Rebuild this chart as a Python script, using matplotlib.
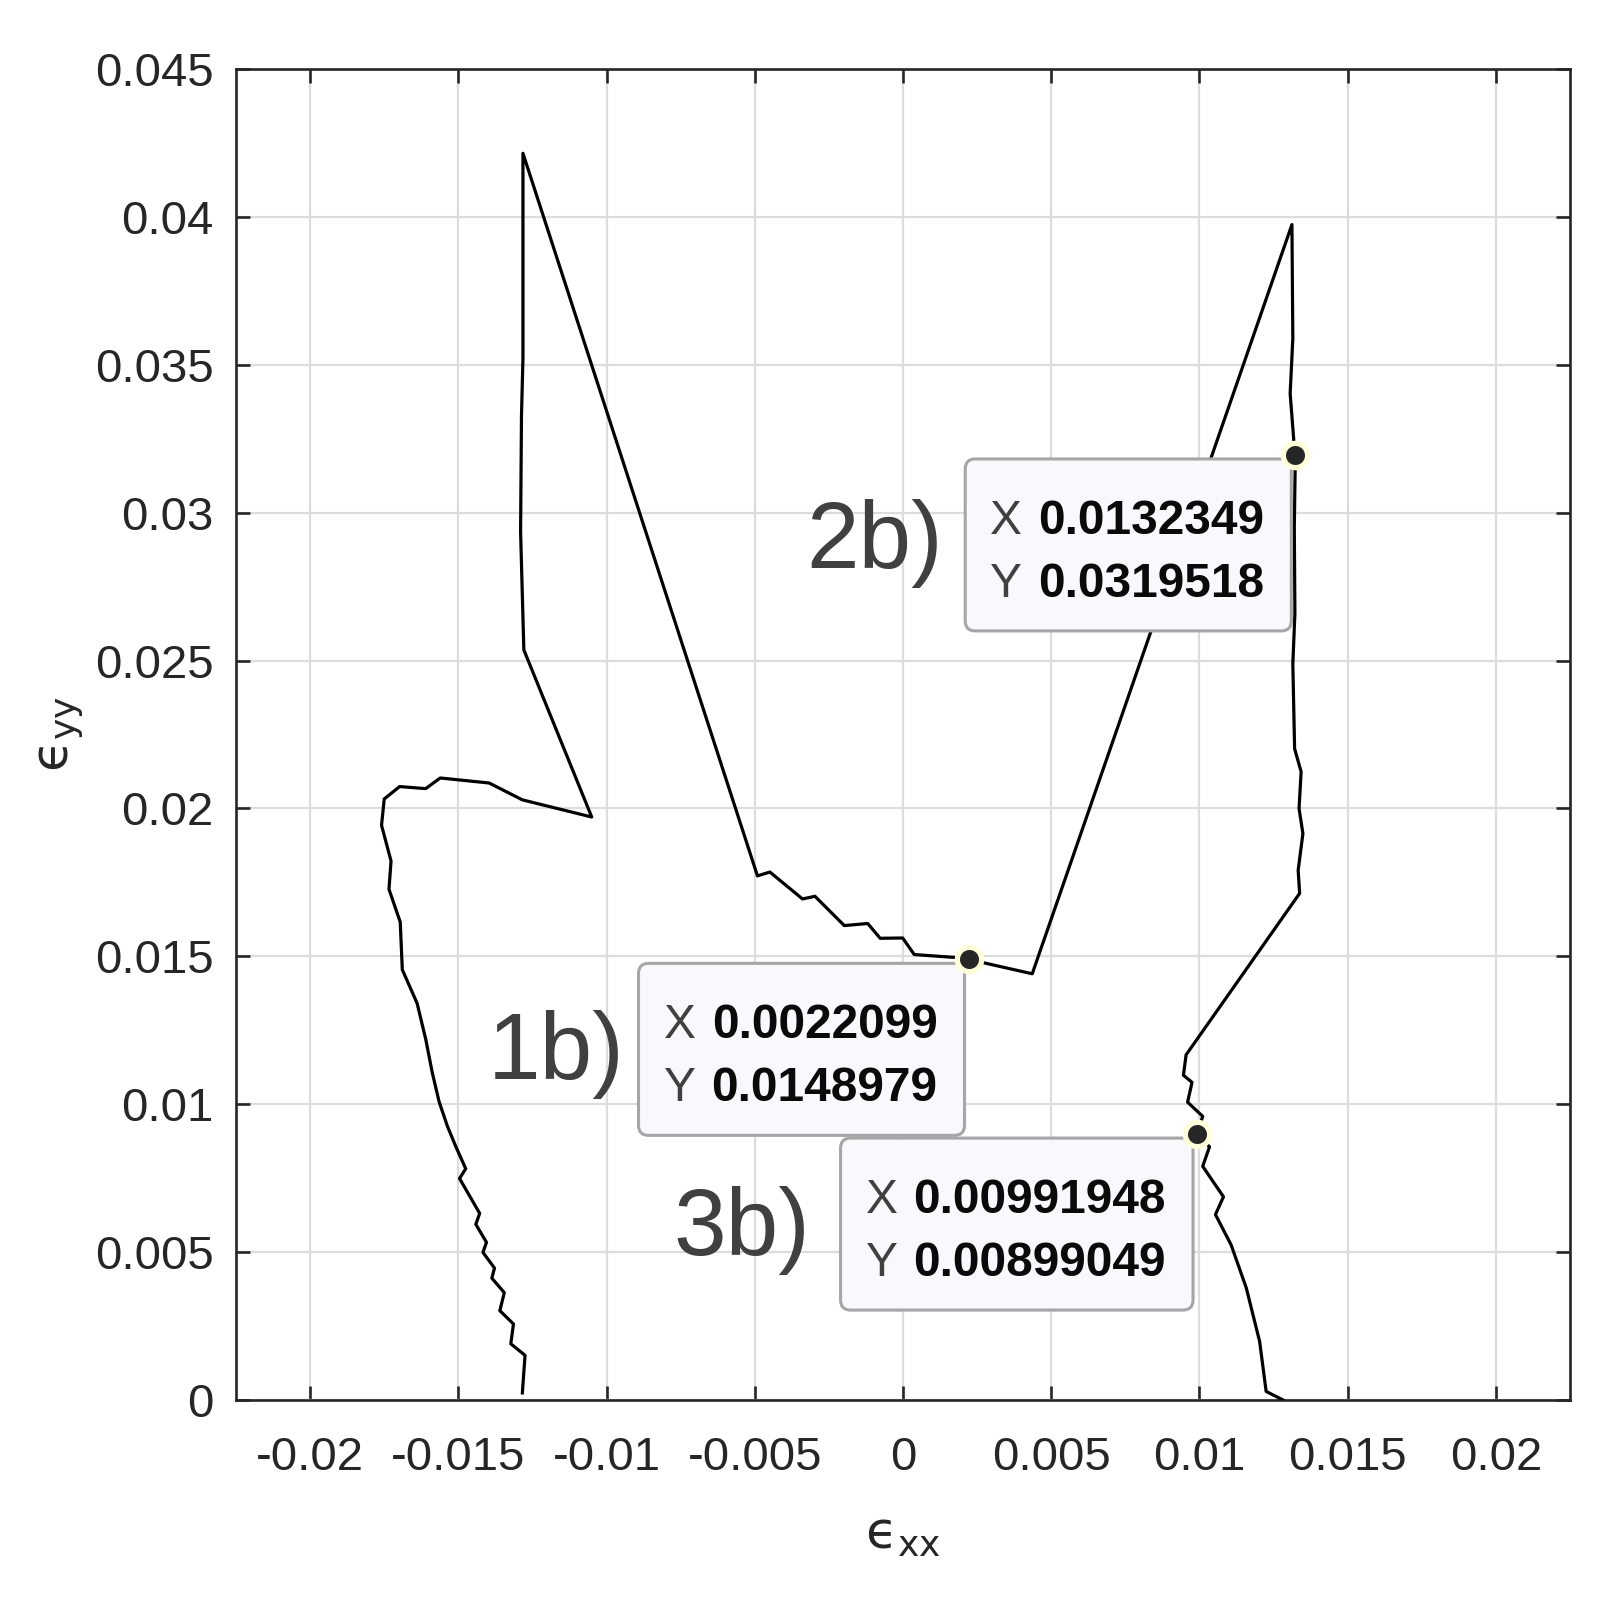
import matplotlib
matplotlib.use('Agg')
import matplotlib.pyplot as plt
import matplotlib.transforms as mtransforms
from matplotlib.patches import FancyBboxPatch

plt.rcParams['font.family'] = ['Liberation Sans', 'DejaVu Sans']
plt.rcParams['mathtext.fontset'] = 'custom'
plt.rcParams['mathtext.rm'] = 'DejaVu Sans'

# strain path
exx = [-0.01284, -0.01275, -0.01323, -0.01314, -0.0136, -0.01345, -0.01387, -0.01378,
       -0.01417, -0.01405, -0.01441, -0.01428, -0.01496, -0.01475, -0.01509, -0.01537,
       -0.01565, -0.01588, -0.0161, -0.01639, -0.01689, -0.01696, -0.01734, -0.01727,
       -0.01759, -0.0175, -0.01698, -0.0161, -0.01561, -0.01396, -0.01284, -0.0105,
       -0.01279, -0.0129, -0.01287, -0.01282, -0.01282, -0.00491, -0.00449, -0.00339,
       -0.00297, -0.00198, -0.00119, -0.00077, -0.00001, 0.00038, 0.00179, 0.0022099,
       0.00436, 0.01312, 0.01315, 0.01306, 0.01318, 0.0132349, 0.0132, 0.01322,
       0.01315, 0.01321, 0.01343, 0.01336, 0.01349, 0.01333, 0.01338, 0.00955,
       0.00946, 0.00975, 0.0096, 0.01011, 0.00991948, 0.01034, 0.01011, 0.01081,
       0.01054, 0.01107, 0.01158, 0.01203, 0.01225, 0.01282]
eyy = [0.00024, 0.00151, 0.0019, 0.00257, 0.00302, 0.00363, 0.00412, 0.00446,
       0.00499, 0.00533, 0.00594, 0.00631, 0.00749, 0.00782, 0.00858, 0.00926,
       0.01009, 0.01107, 0.0122, 0.01341, 0.01455, 0.01616, 0.01727, 0.01822,
       0.01943, 0.02032, 0.02074, 0.02067, 0.02103, 0.02086, 0.02029, 0.01971,
       0.02536, 0.02935, 0.03327, 0.03523, 0.04215, 0.01772, 0.01785, 0.01694,
       0.01703, 0.01604, 0.01611, 0.01561, 0.01562, 0.01506, 0.01496, 0.0148979,
       0.01441, 0.03974, 0.03589, 0.03403, 0.03248, 0.0319518, 0.0295, 0.02659,
       0.02488, 0.02202, 0.02124, 0.02, 0.01915, 0.01791, 0.01713, 0.01167,
       0.01098, 0.01074, 0.01007, 0.00959, 0.00899049, 0.00856, 0.0079, 0.00687,
       0.00627, 0.00524, 0.00379, 0.00198, 0.00029, 0.0]

x_ticks = [-0.02, -0.015, -0.01, -0.005, 0, 0.005, 0.01, 0.015, 0.02]
x_tick_labels = ['-0.02', '-0.015', '-0.01', '-0.005', '0', '0.005', '0.01', '0.015', '0.02']
y_ticks = [0, 0.005, 0.01, 0.015, 0.02, 0.025, 0.03, 0.035, 0.04, 0.045]
y_tick_labels = ['0', '0.005', '0.01', '0.015', '0.02', '0.025', '0.03', '0.035', '0.04', '0.045']

# data tips
tip_x = [0.0022099, 0.0132349, 0.00991948]
tip_y = [0.0148979, 0.0319518, 0.00899049]
tip_names = ['1b)', '2b)', '3b)']
name_x = [-0.0140, -0.00326, -0.00776]
name_y = [0.01085, 0.02813, 0.0049]

fig = plt.figure(figsize=(16.11, 16.0), dpi=100)
ax = fig.add_axes([236 / 1611, 200 / 1600, 1334 / 1611, 1331 / 1600])

ax.plot(exx, eyy, color='k', lw=2.3, zorder=3)

ax.set_xticks(x_ticks)
ax.set_xticklabels(x_tick_labels)
ax.set_yticks(y_ticks)
ax.set_yticklabels(y_tick_labels)
ax.grid(True, color='#dcdcdc', lw=1.6)
ax.set_axisbelow(True)
ax.tick_params(direction='in', length=10, width=1.9, top=True, right=True,
               labelsize=34, color='#262626', labelcolor='#262626')
ax.tick_params(axis='x', pad=26)
ax.tick_params(axis='y', pad=16)
for s in ax.spines.values():
    s.set_linewidth(1.9)
    s.set_color('#262626')

ax.set_xlabel('$\\mathrm{\u03f5_{xx}}$', fontsize=37, color='#262626', labelpad=22)
ax.set_ylabel('$\\mathrm{\u03f5_{yy}}$', fontsize=37, color='#262626', labelpad=7)

ax.set_xlim(-0.0225, 0.0225)
ax.set_ylim(0, 0.045)

# data tip boxes, laid out in pixels relative to each point
fig.canvas.draw()
renderer = fig.canvas.get_renderer()
for x, y in zip(tip_x, tip_y):
    off = mtransforms.ScaledTranslation(x, y, ax.transData)
    vals = []
    for row, (lbl, v) in enumerate([('X', x), ('Y', y)]):
        t = ax.text(-31, -79 - 63 * row, '%.6g' % v, transform=off, ha='right',
                    va='baseline', fontsize=34.5, fontweight='bold', color='#0a0a0a',
                    zorder=6)
        vals.append((lbl, t))
    w = max(t.get_window_extent(renderer).width for _, t in vals)
    for row, (lbl, t) in enumerate(vals):
        ax.text(-31 - w - 48, -79 - 63 * row, lbl, transform=off, ha='left',
                va='baseline', fontsize=34.5, color='#404040', zorder=6)
    box = FancyBboxPatch((-4 - (w + 100), -176), w + 100, 172,
                         boxstyle='round,pad=0,rounding_size=10', transform=off,
                         fc='#f8f8fd', ec='#a6a6a6', lw=2.2, zorder=5)
    ax.add_patch(box)

ax.plot(tip_x, tip_y, 'o', ms=17.5, mfc='#262626', mec='#ffffdc', mew=3.8, zorder=7)

for n, nx, ny in zip(tip_names, name_x, name_y):
    ax.text(nx, ny, n, fontsize=68, color='#404040', ha='left', va='baseline', zorder=4)

ax.set_xlim(-0.0225, 0.0225)
ax.set_ylim(0, 0.045)

fig.savefig('out.png', dpi=100)
